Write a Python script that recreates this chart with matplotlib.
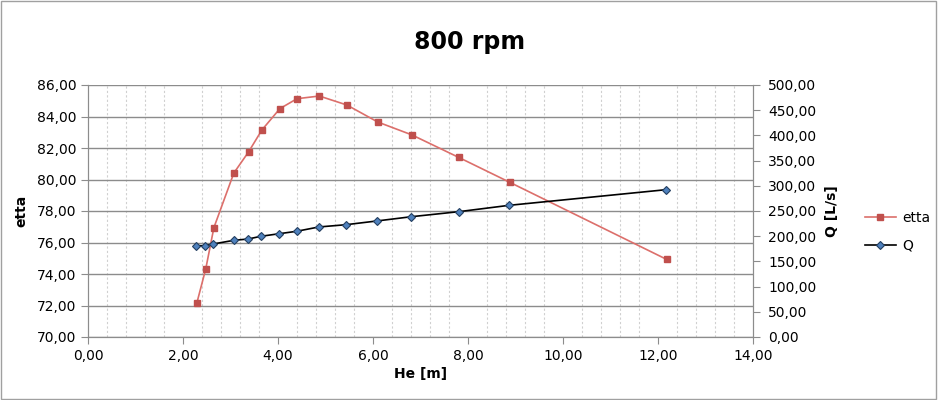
import matplotlib.pyplot as plt
from matplotlib.ticker import FuncFormatter, MultipleLocator
from matplotlib.patches import Rectangle

# data
he_etta = [2.29, 2.48, 2.65, 3.07, 3.38, 3.66, 4.04, 4.40, 4.87, 5.45, 6.10, 6.82, 7.80, 8.88, 12.18]
etta = [72.14, 74.34, 76.94, 80.41, 81.75, 83.14, 84.50, 85.13, 85.30, 84.73, 83.65, 82.83, 81.41, 79.82, 74.93]
he_q = [2.27, 2.46, 2.63, 3.07, 3.37, 3.64, 4.03, 4.39, 4.86, 5.43, 6.08, 6.81, 7.80, 8.87, 12.17]
q = [181.2, 181.0, 184.5, 191.8, 194.4, 199.8, 205.0, 209.7, 218.3, 222.8, 230.2, 238.7, 248.6, 261.3, 292.3]

def comma(v, pos):
    return f"{v:.2f}".replace('.', ',')

plt.rcParams['font.family'] = ['DejaVu Sans']
fig = plt.figure(figsize=(9.38, 4.0), dpi=100)
ax = fig.add_axes([88/938, 1-337/400, (753-88)/938, (337-85)/400])
ax2 = ax.twinx()

ax.set_xlim(0, 14)
ax.set_ylim(70, 86)
ax2.set_ylim(0, 500)
ax.xaxis.set_major_locator(MultipleLocator(2))
ax.xaxis.set_minor_locator(MultipleLocator(0.4))
ax.yaxis.set_major_locator(MultipleLocator(2))
ax2.yaxis.set_major_locator(MultipleLocator(50))
for a in (ax.xaxis, ax.yaxis, ax2.yaxis):
    a.set_major_formatter(FuncFormatter(comma))

ax.grid(True, which='major', axis='y', color='#8c8c8c', lw=1)
ax.grid(True, which='minor', axis='x', color='#d0d0d0', lw=0.8, ls=(0, (2, 2)))
ax.set_axisbelow(True)

for a in (ax, ax2):
    a.spines['top'].set_visible(False)
    for s in ('left', 'right', 'bottom'):
        a.spines[s].set_color('#8c8c8c')
    a.tick_params(colors='#8c8c8c', labelcolor='black', labelsize=10, length=5, which='major')
ax.tick_params(which='minor', length=0)
ax2.tick_params(axis='y', pad=6)

l1, = ax.plot(he_etta, etta, color='#dc6f6b', lw=1.2, marker='s', ms=4,
              mfc='#c0504d', mec='#c0504d', label='etta', zorder=3)
l2, = ax2.plot(he_q, q, color='black', lw=1.2, marker='D', ms=3.6,
               mfc='#4f81bd', mec='#243f60', mew=0.8, label='Q', zorder=3)

ax.set_xlabel('He [m]', fontweight='bold', fontsize=10, labelpad=3)
ax.set_ylabel('etta', fontweight='bold', fontsize=10, labelpad=6)
ax2.set_ylabel('Q [L/s]', fontweight='bold', fontsize=10, labelpad=6)
fig.text(470/938, 1-42/400, '800 rpm', ha='center', va='center', fontsize=17, fontweight='bold')

fig.legend(handles=[l1, l2], loc='center left', bbox_to_anchor=(852/938, 1-232/400),
           frameon=False, fontsize=10, handlelength=2.3, handletextpad=0.4, labelspacing=1.0)

fig.patches.append(Rectangle((0.001, 0.002), 0.997, 0.996, transform=fig.transFigure,
                             fill=False, edgecolor='#a0a0a0', lw=1))

fig.savefig('out.png', dpi=100)
